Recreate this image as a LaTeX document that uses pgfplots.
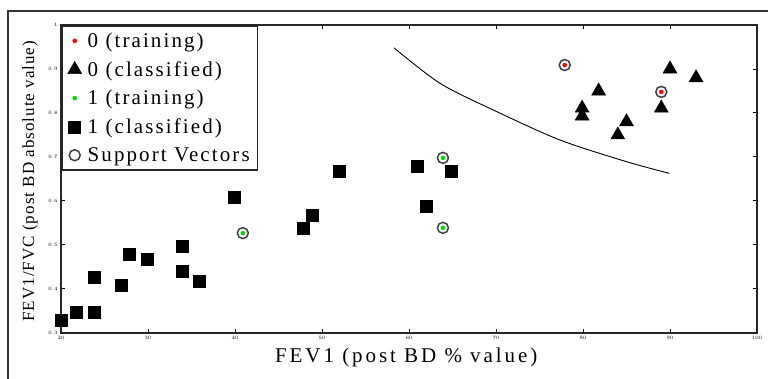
\documentclass[border=0pt]{standalone}
\usepackage{pgfplots}
\pgfplotsset{compat=1.18}
\usepackage{fontspec}
\setmainfont{Liberation Serif}
\newfontfamily\wideserif[LetterSpace=10]{Liberation Serif}
\newfontfamily\xwideserif[LetterSpace=14]{Liberation Serif}
\newfontfamily\ywideserif[LetterSpace=6]{Liberation Serif}
\begin{document}
\begin{tikzpicture}[x=1pt,y=1pt]
\path[use as bounding box] (0,0) rectangle (768,379);
\fill[white] (0,0) rectangle (768,379);
\draw[line width=1.2pt, black!80] (8,-2) -- (8,368) -- (770,368);
\begin{axis}[at={(61pt,46pt)}, anchor=south west, scale only axis,
  width=696pt, height=308pt, clip=false,
  xmin=20, xmax=100, ymin=0.3, ymax=1,
  xtick={20,30,...,100}, ytick={0.3,0.4,...,1.0},
  tick align=inside, major tick length=4pt,
  axis line style={line width=1.6pt, black!85},
  every tick/.style={line width=1pt, black},
  ticklabel style={font=\fontsize{4.5}{4.5}\selectfont},
  yticklabel style={/pgf/number format/fixed, /pgf/number format/precision=1},
  xlabel={FEV1 (post BD \% value)},
  ylabel={FEV1/FVC (post BD absolute value)},
  xlabel style={font=\xwideserif\fontsize{21}{21}\selectfont, at={(axis description cs:0.496,-0.078)}, anchor=center},
  ylabel style={font=\ywideserif\fontsize{17}{17}\selectfont, at={(axis description cs:-0.0445,0.493)}, anchor=center},
  legend style={at={(0,1)}, anchor=north west, draw=black!85, line width=1.6pt,
    font=\wideserif\fontsize{21}{21}\selectfont, inner xsep=6pt, inner ysep=5pt, row sep=8.5pt, column sep=4pt},
  legend cell align=left,
]
\addplot[only marks, mark=*, mark size=2pt, red, line width=0.5pt] coordinates {
(77.9,0.909) (89.0,0.848)};
\addlegendentry{0 (training)}
\addplot[only marks, mark=triangle*, mark size=8pt, black, line width=0.5pt] coordinates {
(90.0,0.900) (93.0,0.880) (81.8,0.850) (79.9,0.811) (79.9,0.793) (85.0,0.780) (84.0,0.750) (89.0,0.811)};
\addlegendentry{0 (classified)}
\addplot[only marks, mark=*, mark size=2pt, green!85!black, line width=0.5pt] coordinates {
(40.9,0.527) (63.9,0.698) (63.9,0.539)};
\addlegendentry{1 (training)}
\addplot[only marks, mark=square*, mark size=6pt, black, line width=0.5pt] coordinates {
(20.0,0.330) (21.8,0.348) (23.8,0.348) (23.8,0.427) (26.9,0.409) (27.9,0.480) (29.9,0.468)
(33.9,0.498) (33.9,0.441) (35.9,0.418) (39.9,0.609) (47.9,0.539) (48.9,0.568) (52.0,0.668)
(61.0,0.680) (62.0,0.589) (64.9,0.668)};
\addlegendentry{1 (classified)}
\addplot[only marks, mark=o, mark size=5.5pt, black!75, line width=1.5pt] coordinates {
(77.9,0.909) (89.0,0.848) (40.9,0.527) (63.9,0.698) (63.9,0.539)};
\addlegendentry{Support Vectors}
\addplot[smooth, black, line width=0.9pt, forget plot] coordinates {
(58.28,0.948) (63.56,0.8675) (69.69,0.8068) (77.36,0.7386) (85.02,0.6893) (89.92,0.6629)};
\end{axis}
\end{tikzpicture}
\end{document}
